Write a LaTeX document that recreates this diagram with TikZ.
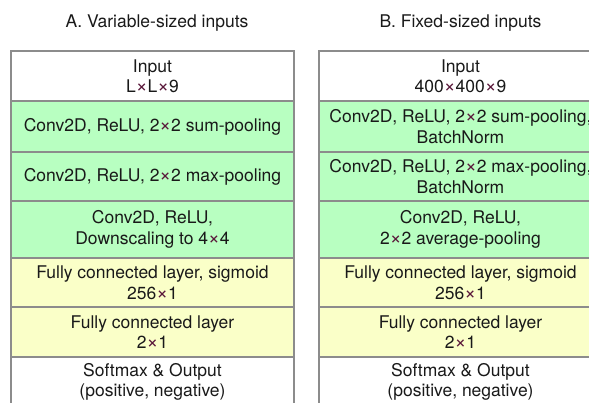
\documentclass[tikz,border=0pt]{standalone}
\usepackage{fontspec}
\setmainfont{TeX Gyre Heros}
\definecolor{convgreen}{RGB}{184,255,193}
\definecolor{fcyellow}{RGB}{250,255,200}
\definecolor{edgegray}{RGB}{140,140,140}
\definecolor{timescol}{RGB}{90,24,58}
\definecolor{textcol}{RGB}{25,25,25}
\newcommand\tm{\textcolor{timescol}{\scalebox{1.15}{×}}}
\tikzset{
  layer/.style={draw=edgegray, line width=1.4pt, anchor=north west, minimum width=283pt,
    inner sep=0pt, outer sep=0pt, align=center, text=textcol,
    font=\fontsize{17.5}{20.5}\selectfont},
  title/.style={anchor=base, text=textcol, font=\fontsize{17.5}{20.5}\selectfont, inner sep=0pt},
}
\begin{document}
\begin{tikzpicture}[x=1pt,y=-1pt]
\useasboundingbox (0,0) rectangle (589,402);
\clip (0,0) rectangle (589,402);
\node[title] (ta) at (157,27.5) {A. Variable-sized inputs};
\node[title] (tb) at (460.5,27.5) {B. Fixed-sized inputs};
% column A
\node[layer, fill=white, minimum height=50pt] (a1) at (11,51) {Input\\L\tm L\tm 9};
\node[layer, fill=convgreen, minimum height=51pt] (a2) at (11,101) {Conv2D, ReLU, 2\tm 2 sum-pooling};
\node[layer, fill=convgreen, minimum height=49pt] (a3) at (11,152) {Conv2D, ReLU, 2\tm 2 max-pooling};
\node[layer, fill=convgreen, minimum height=57pt] (a4) at (11,201) {Conv2D, ReLU,\\Downscaling to 4\tm 4};
\node[layer, fill=fcyellow, minimum height=49pt] (a5) at (11,258) {Fully connected layer, sigmoid\\256\tm 1};
\node[layer, fill=fcyellow, minimum height=50pt] (a6) at (11,307) {Fully connected layer\\2\tm 1};
\node[layer, fill=white, minimum height=50pt] (a7) at (11,357) {Softmax \& Output\\(positive, negative)};
% column B
\node[layer, fill=white, minimum height=50pt] (b1) at (319,51) {Input\\400\tm 400\tm 9};
\node[layer, fill=convgreen, minimum height=51pt] (b2) at (319,101) {Conv2D, ReLU, 2\tm 2 sum-pooling,\\BatchNorm};
\node[layer, fill=convgreen, minimum height=49pt] (b3) at (319,152) {Conv2D, ReLU, 2\tm 2 max-pooling,\\BatchNorm};
\node[layer, fill=convgreen, minimum height=57pt] (b4) at (319,201) {Conv2D, ReLU,\\2\tm 2 average-pooling};
\node[layer, fill=fcyellow, minimum height=49pt] (b5) at (319,258) {Fully connected layer, sigmoid\\256\tm 1};
\node[layer, fill=fcyellow, minimum height=50pt] (b6) at (319,307) {Fully connected layer\\2\tm 1};
\node[layer, fill=white, minimum height=50pt] (b7) at (319,357) {Softmax \& Output\\(positive, negative)};
\end{tikzpicture}
\end{document}
